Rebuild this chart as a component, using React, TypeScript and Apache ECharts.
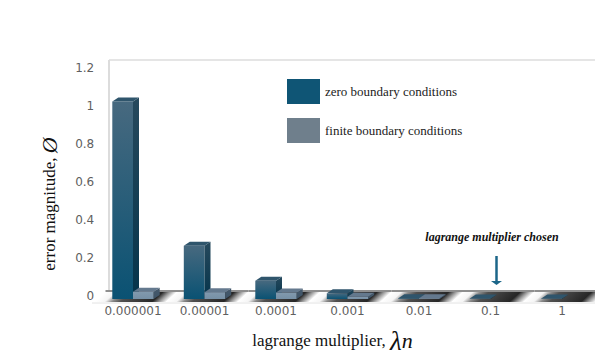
import React, { useEffect, useRef } from "react";
import * as echarts from "echarts";

const categories = ["0.000001", "0.00001", "0.0001", "0.001", "0.01", "0.1", "1"];
const zeroBoundary = [1.04, 0.28, 0.096, 0.03, 0.004, 0.003, 0.003];
const finiteBoundary = [0.038, 0.036, 0.034, 0.012, 0.004, 0, 0];
const yTicks = [0, 0.2, 0.4, 0.6, 0.8, 1, 1.2];
const ZERO_NAME = "zero boundary conditions";
const FINITE_NAME = "finite boundary conditions";
const SERIF = '"Liberation Serif", serif';

const BAR_W = 20.7;
const DX = 6;
const DY = 4;
const FRONT = 3;

function vGrad(a: string, b: string) {
  return { type: "linear", x: 0, y: 0, x2: 0, y2: 1, colorStops: [{ offset: 0, color: a }, { offset: 1, color: b }] };
}

function barRenderer(offset: number, colors: any) {
  return (_p: any, api: any) => {
    const v = api.value(1);
    if (!v) return { type: "group", children: [] };
    const top = api.coord([api.value(0), v]);
    const base = api.coord([api.value(0), 0]);
    const x0 = top[0] + offset;
    const x1 = x0 + BAR_W;
    const yT = top[1] + FRONT;
    const yB = base[1] + FRONT;
    return {
      type: "group",
      children: [
        { type: "polygon", shape: { points: [[x0, yT], [x1, yT], [x1, yB], [x0, yB]] }, style: { fill: vGrad(colors.f1, colors.f2) } },
        { type: "polygon", shape: { points: [[x1, yT], [x1 + DX, yT - DY], [x1 + DX, yB - DY], [x1, yB]] }, style: { fill: vGrad(colors.s1, colors.s2) } },
        { type: "polygon", shape: { points: [[x0, yT], [x0 + DX, yT - DY], [x1 + DX, yT - DY], [x1, yT]] }, style: { fill: colors.t } },
      ],
    };
  };
}

function floorRenderer(_p: any, api: any) {
  const c = api.coord([api.value(0), 0]);
  const w = api.size([1, 0])[0];
  const x0 = c[0] - 38.5;
  const yB = 302;
  const yT = 292;
  const sl = 11;
  const len = Math.hypot(sl, yB - yT);
  const nx = (yB - yT) / len;
  const ny = sl / len;
  const d = (w * (yB - yT)) / len;
  const fill = {
    type: "linear",
    global: true,
    x: x0,
    y: yB,
    x2: x0 + nx * d,
    y2: yB + ny * d,
    colorStops: [
      { offset: 0, color: "#ffffff" },
      { offset: 0.14, color: "#f5f5f5" },
      { offset: 0.24, color: "#8c8c8c" },
      { offset: 0.36, color: "#505050" },
      { offset: 0.8, color: "#262626" },
      { offset: 0.9, color: "#9a9a9a" },
      { offset: 1, color: "#ffffff" },
    ],
  };
  return {
    type: "group",
    children: [
      { type: "polygon", shape: { points: [[x0, yB], [x0 + w, yB], [x0 + w + sl, yT], [x0 + sl, yT]] }, style: { fill } },
      { type: "rect", shape: { x: x0 + sl, y: 290, width: w, height: 2 }, style: { fill: "#8f8f8f" } },
    ],
  };
}

export default function App() {
  const ref = useRef<HTMLDivElement>(null);
  useEffect(() => {
    const chart = echarts.init(ref.current!, null, { renderer: "svg" });
    chart.setOption({
      animation: false,
      grid: { left: 97.25, top: 68, width: 500.5, height: 228, containLabel: false, outerBoundsMode: "none" },
      legend: {
        data: [
          { name: ZERO_NAME, icon: "rect", itemStyle: { color: "#0f5575" } },
          { name: FINITE_NAME, icon: "rect", itemStyle: { color: "#6f7f8c" } },
        ],
        orient: "vertical",
        left: 282,
        top: 74,
        itemWidth: 33,
        itemHeight: 25,
        itemGap: 14,
        selectedMode: false,
        textStyle: { fontFamily: SERIF, fontSize: 13, color: "#222" },
      },
      xAxis: {
        type: "category",
        data: categories,
        axisLine: { show: false },
        axisTick: { show: false },
        axisLabel: { interval: 0, color: "#5f5f5f", fontFamily: '"DejaVu Sans"', fontSize: 12, margin: 9 },
        name: "{a|lagrange multiplier, }{b|λ}{c|n}",
        nameLocation: "middle",
        nameGap: 31,
        nameTextStyle: {
          padding: [0, 30, 0, 0],
          rich: {
            a: { fontFamily: SERIF, fontSize: 17, color: "#111" },
            b: { fontFamily: SERIF, fontSize: 27, fontStyle: "italic", color: "#111" },
            c: { fontFamily: SERIF, fontSize: 22, fontStyle: "italic", color: "#111" },
          },
        },
      },
      yAxis: {
        type: "value",
        min: 0,
        max: 1.2,
        interval: 0.2,
        splitLine: { show: false },
        axisLine: { show: false },
        axisTick: { show: false },
        axisLabel: {
          color: "#5f5f5f",
          fontFamily: '"DejaVu Sans"',
          fontSize: 12,
          margin: 3,
          formatter: (v: number) => yTicks.find((t) => Math.abs(t - v) < 1e-6)!.toString(),
        },
        name: "{a|error magnitude, }{b|Ø}",
        nameLocation: "middle",
        nameRotate: 90,
        nameGap: 37,
        nameTextStyle: {
          padding: [0, 44, 0, 0],
          rich: {
            a: { fontFamily: SERIF, fontSize: 17, color: "#111" },
            b: { fontFamily: SERIF, fontSize: 22, fontStyle: "italic", color: "#111" },
          },
        },
      },
      series: [
        {
          type: "custom",
          name: "floor",
          silent: true,
          renderItem: floorRenderer,
          encode: { x: 0, y: 1 },
          data: categories.map((_, i) => [i, 0]),
        },
        {
          type: "custom",
          name: ZERO_NAME,
          itemStyle: { color: "#0f5575" },
          renderItem: barRenderer(-BAR_W, { f1: "#47697f", f2: "#0a5273", s1: "#26495d", s2: "#05344b", t: "#2f556c" }),
          encode: { x: 0, y: 1 },
          data: zeroBoundary.map((v, i) => [i, v]),
        },
        {
          type: "custom",
          name: FINITE_NAME,
          itemStyle: { color: "#6f7f8c" },
          renderItem: barRenderer(0, { f1: "#8299ad", f2: "#7690a6", s1: "#45596c", s2: "#3f5467", t: "#64798e" }),
          encode: { x: 0, y: 1 },
          data: finiteBoundary.map((v, i) => [i, v]),
        },
      ],
      graphic: [
        { type: "line", z: 0, shape: { x1: 109, y1: 60, x2: 595, y2: 60 }, style: { stroke: "#dcdcdc", lineWidth: 1.5 } },
        { type: "line", z: 0, shape: { x1: 109, y1: 60, x2: 109, y2: 291 }, style: { stroke: "#dcdcdc", lineWidth: 2 } },
        { type: "line", z: 0, shape: { x1: 92, y1: 303, x2: 595, y2: 303 }, style: { stroke: "#e2e2e2", lineWidth: 1 } },
        {
          type: "text",
          x: 492,
          y: 237,
          style: {
            text: "lagrange multiplier chosen",
            fontFamily: SERIF,
            fontSize: 12,
            fontWeight: "bold",
            fontStyle: "italic",
            fill: "#111",
            textAlign: "center",
            textVerticalAlign: "middle",
          },
        },
        { type: "line", shape: { x1: 496.5, y1: 256, x2: 496.5, y2: 281 }, style: { stroke: "#1c6689", lineWidth: 2.5 } },
        { type: "polygon", shape: { points: [[491, 281], [502, 281], [496.5, 285]] }, style: { fill: "#1c6689" } },
      ],
    });
    return () => chart.dispose();
  }, []);
  return <div ref={ref} style={{ position: "absolute", left: 0, top: 0, width: 595, height: 359 }} />;
}
